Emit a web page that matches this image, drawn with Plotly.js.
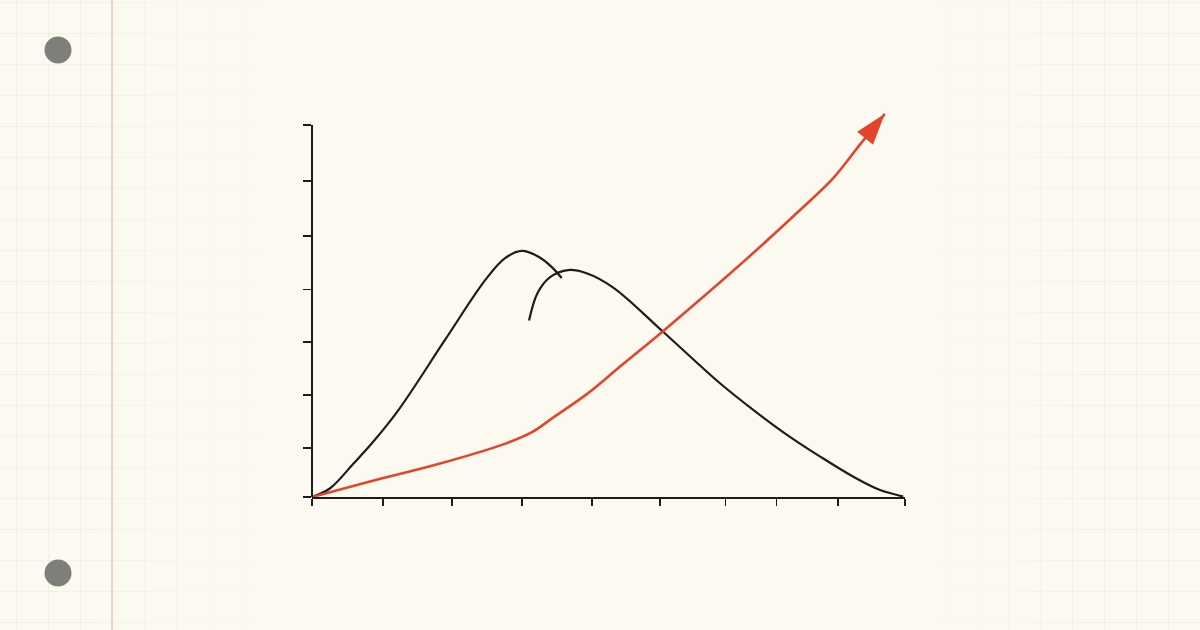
<!DOCTYPE html>
<html>
<head>
<meta charset="utf-8">
<script src="https://cdn.plot.ly/plotly-3.0.1.min.js"></script>
<style>
  html, body { margin:0; padding:0; background:#fcfaf0; }
  #chart {
    width:1200px; height:630px;
    background-color:#fcfaf0;
    background-image:
      linear-gradient(to right, rgba(252,250,240,0) 8%, rgba(252,250,240,1) 22%, rgba(252,250,240,1) 78%, rgba(252,250,240,0) 90%),
      linear-gradient(to right, rgba(205,196,168,0.16) 1px, transparent 1px),
      linear-gradient(to bottom, rgba(205,196,168,0.16) 1px, transparent 1px);
    background-size: 100% 100%, 32px 31px, 32px 31px;
    background-position: 0 0, 16px 0, 0 2px;
  }
</style>
</head>
<body>
<div id="chart"></div>
<script>
// ---- data ----
// x axis tick positions (hand-drawn, uneven)
var xTicks = [0, 1.20, 2.36, 3.54, 4.72, 5.87, 6.97, 7.83, 8.87, 10];
// y axis tick positions
var yTicks = [0, 0.92, 1.92, 2.92, 3.90, 4.91, 5.95, 7];
var yAxisTop = 7;

// first black hump
var hump1X = [0, 0.30, 0.70, 1.01, 1.46, 2.24, 2.92, 3.25, 3.54, 3.82, 4.04, 4.21];
var hump1Y = [0, 0.16, 0.63, 1.01, 1.64, 2.95, 4.08, 4.49, 4.63, 4.52, 4.33, 4.12];

// second black hump (long descending tail)
var hump2X = [3.66, 3.80, 4.02, 4.32, 4.63, 5.08, 5.92, 6.88, 7.44, 8.01, 8.57, 9.13, 9.58, 9.97];
var hump2Y = [3.32, 3.83, 4.14, 4.27, 4.21, 3.94, 3.11, 2.14, 1.64, 1.17, 0.76, 0.38, 0.13, 0.01];

// red rising trend (ends with arrow)
var trendX = [0, 1.01, 2.13, 3.25, 3.71, 4.06, 4.64, 5.19, 5.92, 6.54, 7.44, 8.23, 8.79, 9.24, 9.66];
var trendY = [0, 0.30, 0.62, 1.00, 1.22, 1.49, 1.94, 2.45, 3.12, 3.71, 4.59, 5.40, 6.00, 6.63, 7.21];

// ---- styling ----
var INK = '#1c1c1c';
var RED = '#e2452c';

var W = 1200, H = 630;
var M = {l:312, r:295, t:100, b:133};
var plotW = W - M.l - M.r, plotH = H - M.t - M.b;
var pxPerY = 372 / yAxisTop;           // axis line spans 372 px for 0..7
var yMax = plotH / pxPerY;
function px2paperX(px){ return (px - M.l) / plotW; }
function px2paperY(py){ return (H - M.b - py) / plotH; }

var last = trendX.length - 1;
var arrowSymbols = trendX.map(function(_, i){ return i === last ? 'arrow' : 'circle'; });
var arrowSizes = trendX.map(function(_, i){ return i === last ? 33 : 0; });

var traces = [
  {
    x: hump1X, y: hump1Y, type:'scatter', mode:'lines',
    line:{color:INK, width:2.2, shape:'spline', smoothing:1},
    hoverinfo:'skip'
  },
  {
    x: hump2X, y: hump2Y, type:'scatter', mode:'lines',
    line:{color:INK, width:2.2, shape:'spline', smoothing:1},
    hoverinfo:'skip'
  },
  {
    x: trendX, y: trendY, type:'scatter', mode:'lines+markers',
    line:{color:RED, width:2.6, shape:'spline', smoothing:1},
    marker:{symbol:arrowSymbols, size:arrowSizes, color:RED, opacity:1,
            angleref:'previous', line:{width:0}},
    cliponaxis:false,
    hoverinfo:'skip'
  }
];

function hole(pxX, pxY, r){
  return {
    type:'circle', layer:'below',
    xref:'paper', yref:'paper',
    xsizemode:'pixel', ysizemode:'pixel',
    xanchor:px2paperX(pxX), yanchor:px2paperY(pxY),
    x0:-r, x1:r, y0:-r, y1:r,
    fillcolor:'#7e7e7a', line:{width:0}
  };
}

var layout = {
  width:W, height:H, autosize:false,
  margin:{l:M.l, r:M.r, t:M.t, b:M.b, pad:0},
  paper_bgcolor:'rgba(0,0,0,0)',
  plot_bgcolor:'rgba(0,0,0,0)',
  showlegend:false,
  xaxis:{
    range:[0,10], showgrid:false, zeroline:false,
    showline:true, linecolor:INK, linewidth:2,
    ticks:'outside', tickvals:xTicks, ticklen:7, tickwidth:1.5, tickcolor:INK,
    showticklabels:false, fixedrange:true
  },
  yaxis:{
    range:[0,yMax], showgrid:false, zeroline:false,
    showline:false,
    ticks:'outside', tickvals:yTicks, ticklen:8, tickwidth:1.5, tickcolor:INK,
    showticklabels:false, fixedrange:true
  },
  shapes:[
    { type:'line', layer:'below', xref:'paper', yref:'paper',
      x0:px2paperX(112), x1:px2paperX(112), y0:px2paperY(0), y1:px2paperY(630),
      line:{color:'#efc6bd', width:1.5} },
    // y axis line from 0 to top tick
    { type:'line', layer:'above', xref:'paper', yref:'y',
      x0:0, x1:0, y0:-0.08, y1:yAxisTop,
      line:{color:INK, width:2} },
    hole(58, 50, 13.5),
    hole(58, 573, 13.5)
  ]
};

Plotly.newPlot('chart', traces, layout, {staticPlot:true, displayModeBar:false});
</script>
</body>
</html>
